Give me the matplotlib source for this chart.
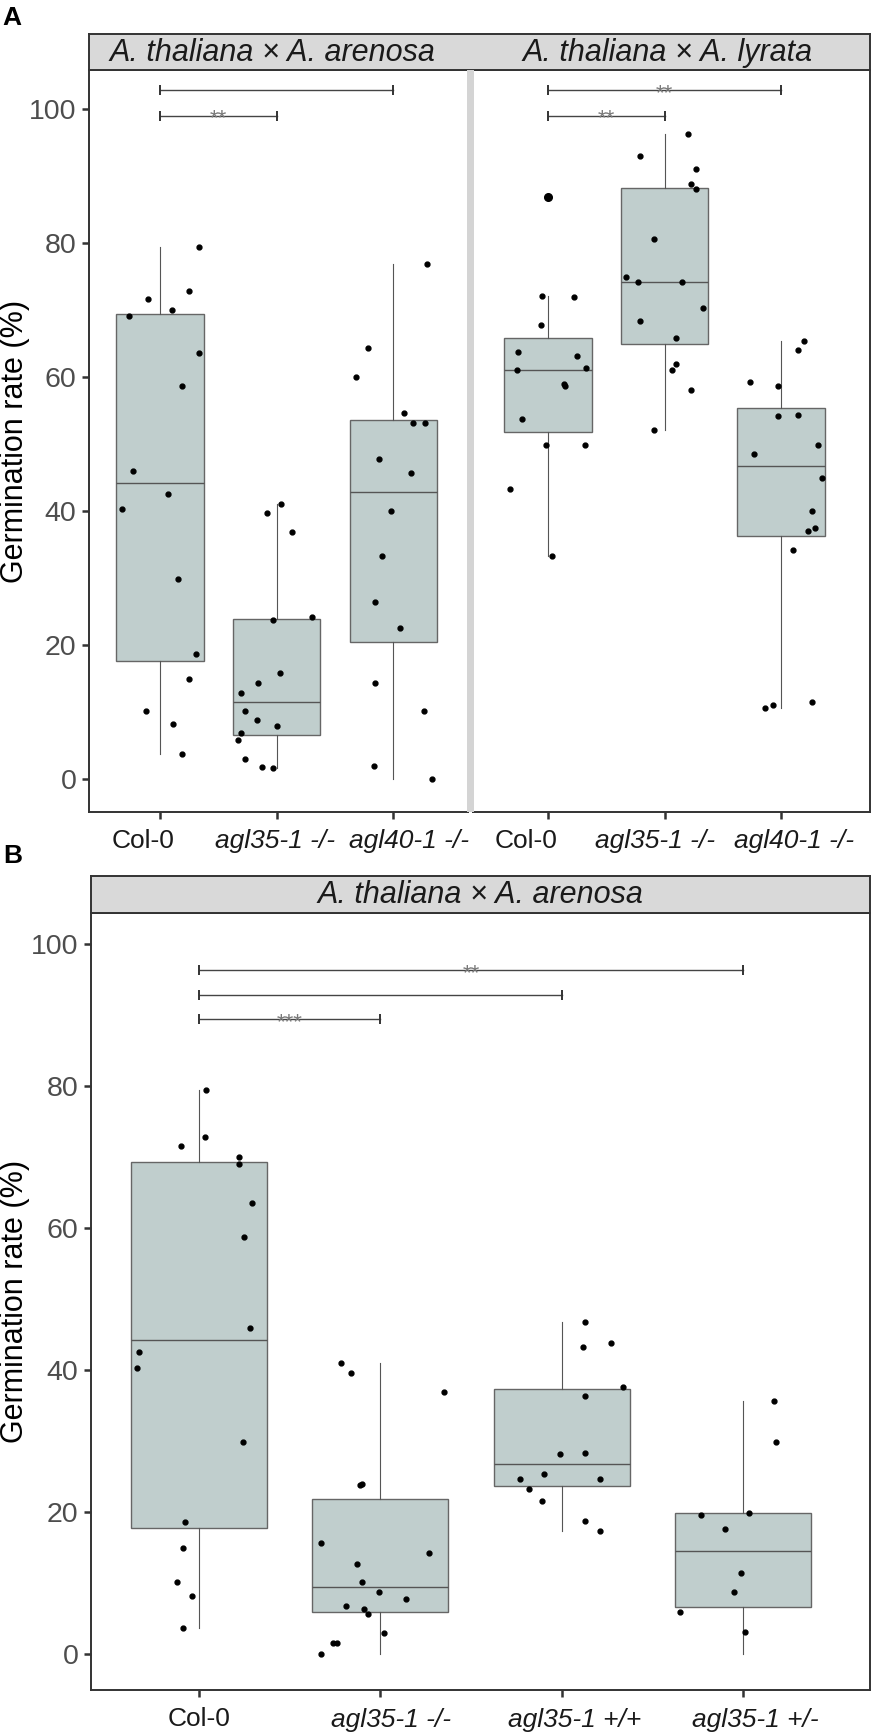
import numpy as np
import matplotlib
matplotlib.use("Agg")
import matplotlib.pyplot as plt
from matplotlib.patches import Rectangle

plt.rcParams["font.family"] = ["Liberation Sans", "DejaVu Sans"]

# germination rate (%) per seed batch
col0 = [79.4, 71.6, 72.8, 70.0, 69.1, 63.6, 58.7, 46.0, 42.5, 40.3, 29.9, 18.6, 15.0, 10.2, 8.2, 3.7]
aren_agl35 = [41.0, 39.7, 36.9, 23.8, 24.2, 15.8, 14.3, 12.8, 10.2, 8.8, 8.0, 6.9, 5.8, 3.0, 1.8, 1.7]
aren_agl40 = [76.9, 64.3, 60.0, 54.6, 53.2, 53.2, 47.8, 45.7, 40.0, 33.3, 26.4, 22.6, 14.3, 10.2, 1.9, 0.0]
lyr_col0 = [86.9, 72.1, 71.9, 67.7, 63.8, 63.1, 61.0, 61.4, 59.0, 58.7, 53.7, 49.9, 49.9, 43.3, 33.3]
lyr_agl35 = [96.3, 92.9, 91.0, 88.8, 88.0, 80.6, 74.9, 74.1, 74.1, 70.3, 68.3, 65.8, 62.0, 61.0, 58.1, 52.1]
lyr_agl40 = [65.4, 64.0, 59.3, 58.7, 54.2, 54.3, 49.9, 48.5, 45.0, 40.0, 37.5, 37.0, 34.2, 11.5, 11.1, 10.6]
b_agl35_mm = [41.0, 39.6, 24.0, 23.8, 36.9, 15.7, 14.2, 12.7, 10.1, 8.7, 7.8, 6.8, 6.4, 5.7, 2.9, 1.6, 1.6, 0.0]
b_agl35_pp = [46.8, 43.3, 43.8, 37.6, 36.3, 28.2, 28.3, 25.3, 24.6, 24.6, 23.3, 21.5, 18.8, 17.3]
b_agl35_pm = [35.7, 29.9, 19.9, 19.6, 17.6, 11.4, 8.7, 5.9, 3.1, 0.0]

# horizontal jitter of each dot (category units), as seen in the figure
jit_col0_a = [0.33, -0.10, 0.25, 0.10, -0.27, 0.33, 0.19, -0.23, 0.07, -0.33, 0.15, 0.31, 0.25, -0.12, 0.11, 0.19]
jit_aren_agl35 = [0.04, -0.08, 0.13, -0.03, 0.30, 0.03, -0.16, -0.31, -0.27, -0.17, 0.00, -0.31, -0.33, -0.27, -0.13, -0.03]
jit_aren_agl40 = [0.29, -0.22, -0.32, 0.09, 0.17, 0.27, -0.12, 0.15, -0.02, -0.10, -0.16, 0.06, -0.16, 0.26, -0.17, 0.33]
jit_lyr_col0 = [0.00, -0.05, 0.22, -0.06, -0.26, 0.25, -0.27, 0.33, 0.14, 0.15, -0.22, -0.02, 0.32, -0.33, 0.03]
jit_lyr_agl35 = [0.20, -0.21, 0.27, 0.23, 0.27, -0.09, -0.33, -0.23, 0.15, 0.33, -0.21, 0.10, 0.10, 0.06, 0.23, -0.09]
jit_lyr_agl40 = [0.20, 0.15, -0.27, -0.03, -0.03, 0.15, 0.32, -0.23, 0.35, 0.27, 0.29, 0.23, 0.10, 0.27, -0.07, -0.14]
jit_col0_b = [0.04, -0.10, 0.03, 0.22, 0.22, 0.29, 0.25, 0.28, -0.33, -0.34, 0.24, -0.08, -0.09, -0.12, -0.04, -0.09]
jit_b_mm = [-0.22, -0.16, -0.10, -0.11, 0.35, -0.33, 0.27, -0.13, -0.10, -0.01, 0.14, -0.19, -0.09, -0.07, 0.02, -0.26, -0.24, -0.33]
jit_b_pp = [0.13, 0.12, 0.27, 0.34, 0.13, -0.01, 0.13, -0.10, -0.23, 0.21, -0.18, -0.11, 0.13, 0.21]
jit_b_pm = [0.17, 0.18, 0.03, -0.23, -0.10, -0.01, -0.05, -0.35, 0.01, np.nan]

labels_a = ["Col-0", "agl35-1 -/-", "agl40-1 -/-"]
labels_b = ["Col-0", "agl35-1 -/-", "agl35-1 +/+", "agl35-1 +/-"]
strip_arenosa = "A. thaliana × A. arenosa"
strip_lyrata = "A. thaliana × A. lyrata"

# significance brackets: (from group, to group, height, stars)
sig_aren = [(1, 2, 99.0, "**"), (1, 3, 102.8, "")]
sig_lyr = [(1, 2, 99.0, "**"), (1, 3, 102.8, "**")]
sig_b = [(1, 2, 89.4, "***"), (1, 3, 92.9, ""), (1, 4, 96.4, "**")]

W, H = 872, 1732
BOX = "#c0cecd"
DARK = "#333333"


def fx(px):
    return px / W


def fy(py):
    return 1 - py / H


def add_axes_px(fig, x0, y0, x1, y1):
    return fig.add_axes([fx(x0), fy(y1), fx(x1) - fx(x0), (y1 - y0) / H])


def draw_panel(ax, groups, jitters, labels, label_shift, sigs, xlim, ylim, show_y=True):
    pos = np.arange(1, len(groups) + 1)
    ax.boxplot(groups, positions=pos, widths=0.75, patch_artist=True, showcaps=False,
               boxprops=dict(facecolor=BOX, edgecolor="#666666", linewidth=1.0),
               medianprops=dict(color="#555555", linewidth=1.0),
               whiskerprops=dict(color="#555555", linewidth=0.8),
               flierprops=dict(marker="o", markerfacecolor="black", markeredgecolor="black",
                               markersize=5.5),
               zorder=2)
    for p, vals, jit in zip(pos, groups, jitters):
        ax.plot(p + np.array(jit), vals, "o", color="black", markersize=3.5, zorder=3)
    for g1, g2, y, stars in sigs:
        ax.plot([g1, g2], [y, y], color="#444444", lw=1.0, zorder=4)
        ax.plot([g1, g2], [y, y], ls="none", marker="|", ms=7, mew=1.4, color="#333333", zorder=4)
        if stars:
            ax.annotate(stars, xy=((g1 + g2) / 2, y), xytext=(0, -6.5), textcoords="offset points",
                        ha="center", va="baseline", fontsize=16, color="#7a7a7a", zorder=5)
    ax.set_xlim(*xlim)
    ax.set_ylim(*ylim)
    ax.set_xticks(pos)
    ax.set_xticklabels([])
    # tick labels placed by hand: in the original they sit a little off their ticks
    for p, lab, dx in zip(pos, labels, label_shift):
        ax.annotate(lab, xy=(p, 0), xycoords=("data", "axes fraction"),
                    xytext=(dx * 0.72, -36.5 * 0.72), textcoords="offset points",
                    ha="center", va="baseline", fontsize=19, color="#1a1a1a",
                    style="normal" if lab == "Col-0" else "italic")
    ax.set_yticks([0, 20, 40, 60, 80, 100])
    ax.tick_params(axis="both", length=5, width=1.8, color=DARK, pad=4)
    ax.tick_params(axis="y", labelsize=20.5, labelcolor="#4d4d4d")
    if not show_y:
        ax.tick_params(axis="y", left=False, labelleft=False)
    for s in ax.spines.values():
        s.set_color(DARK)
        s.set_linewidth(1.4)


def draw_strip(fig, x0, y0, x1, y1, texts):
    sax = add_axes_px(fig, x0, y0, x1, y1)
    sax.set_facecolor("#d9d9d9")
    sax.set_xticks([])
    sax.set_yticks([])
    sax.set_xlim(x0, x1)
    sax.set_ylim(0, 1)
    for s in sax.spines.values():
        s.set_color(DARK)
        s.set_linewidth(1.4)
    for xc, txt in texts:
        sax.text(xc, 0.48, txt, ha="center", va="center", fontsize=22, style="italic", color="#1a1a1a")


fig = plt.figure(figsize=(W / 100, H / 100), dpi=100)

# ---- panel A ----
fig.patches.append(Rectangle((fx(467), fy(812)), fx(474) - fx(467), (812 - 70) / H,
                             transform=fig.transFigure, facecolor="#d4d4d4", edgecolor="none", zorder=0))
ax1 = add_axes_px(fig, 89, 70, 468, 812)
draw_panel(ax1, [col0, aren_agl35, aren_agl40], [jit_col0_a, jit_aren_agl35, jit_aren_agl40],
           labels_a, [-17, -2, 16], sig_aren, (0.39, 3.64), (-4.9, 105.8))
ax2 = add_axes_px(fig, 473, 70, 870, 812)
draw_panel(ax2, [lyr_col0, lyr_agl35, lyr_agl40], [jit_lyr_col0, jit_lyr_agl35, jit_lyr_agl40],
           labels_a, [-22, -10, 13], sig_lyr, (0.356, 3.764), (-4.9, 105.8), show_y=False)
draw_strip(fig, 89, 34, 870, 70, [(272, strip_arenosa), (668, strip_lyrata)])
fig.text(fx(15), fy(441), "Germination rate (%)", rotation=90, ha="center", va="center", fontsize=22)
fig.text(fx(2), fy(25), "A", fontsize=19, fontweight="bold", ha="left", va="baseline")

# ---- panel B ----
ax3 = add_axes_px(fig, 91, 913, 870, 1690)
draw_panel(ax3, [col0, b_agl35_mm, b_agl35_pp, b_agl35_pm],
           [jit_col0_b, jit_b_mm, jit_b_pp, jit_b_pm],
           labels_b, [0, 11, 13, 12], sig_b, (0.404, 4.70), (-5.07, 104.4))
draw_strip(fig, 91, 876, 870, 913, [(480, strip_arenosa)])
fig.text(fx(15), fy(1301), "Germination rate (%)", rotation=90, ha="center", va="center", fontsize=22)
fig.text(fx(3), fy(863), "B", fontsize=19, fontweight="bold", ha="left", va="baseline")

fig.savefig("out.png", dpi=100)
